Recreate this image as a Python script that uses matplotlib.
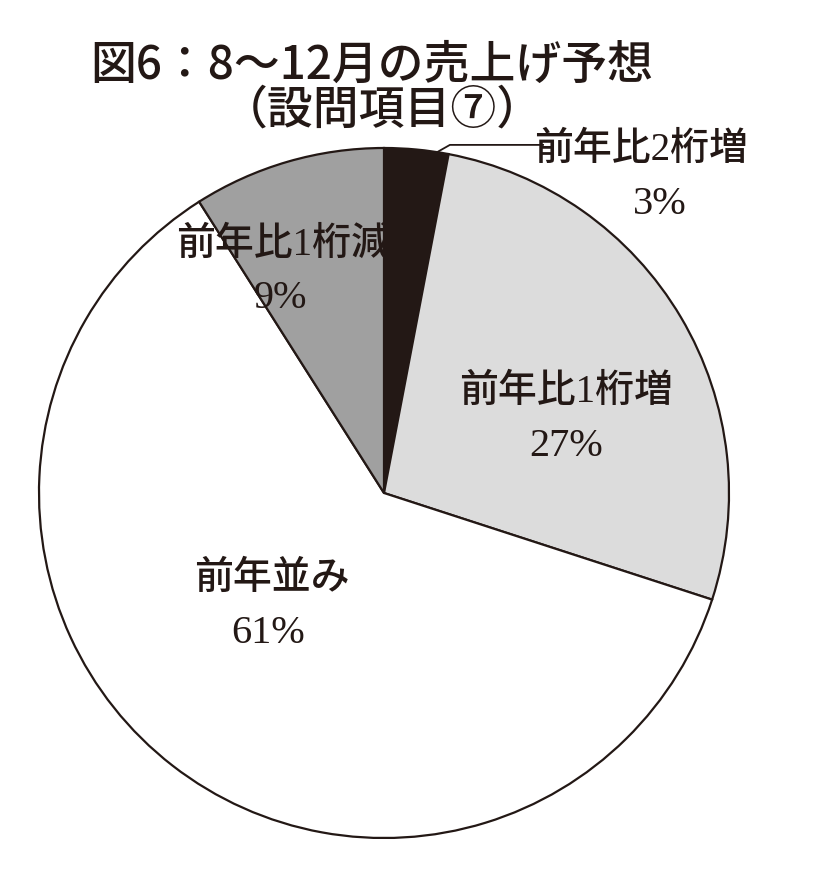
import matplotlib.pyplot as plt

plt.rcParams['font.family'] = ['Liberation Serif', 'Noto Sans CJK JP', 'DejaVu Sans']

# slices, clockwise from 12 o'clock
names = ["前年比2桁増", "前年比1桁増", "前年並み", "前年比1桁減"]
shares = [3, 27, 61, 9]
colors = ["#231815", "#dcdcdc", "#ffffff", "#a0a0a0"]

fig = plt.figure(figsize=(8.2, 8.83), dpi=100)
ax = fig.add_axes([39/820, 45/883, 690/820, 690/883])
ax.pie(shares, colors=colors, startangle=90, counterclock=False, radius=1,
       wedgeprops=dict(edgecolor="#231815", linewidth=1.6))
ax.set_xlim(-1, 1)
ax.set_ylim(-1, 1)
ax.set_aspect("equal")
ax.axis("off")

# label placement (name line, pct line) in pie coords
pos = [(0.745, 0.994, 0.80, 0.835),
       (0.528, 0.29, 0.528, 0.136),
       (-0.325, -0.252, -0.335, -0.406),
       (-0.293, 0.719, -0.30, 0.565)]
for name, v, (x1, y1, x2, y2) in zip(names, shares, pos):
    ax.text(x1, y1, name, ha="center", va="center", fontsize=28, weight="medium",
            color="#231815")
    ax.text(x2, y2, "%d%%" % v, ha="center", va="center", fontsize=29, color="#231815")

# leader line for the small slice
ax.plot([0.154, 0.191, 0.461], [0.988, 1.009, 1.009], color="#231815", lw=1.3,
        clip_on=False)

tfont = ['Noto Sans CJK JP', 'DejaVu Sans']
fig.text(372/820, 1 - 65/883, "図6：8～12月の売上げ予想", ha="center", va="center",
         fontsize=33, family=tfont, weight="medium", color="#231815")
fig.text(382/820, 1 - 110/883, "（設問項目⑦）", ha="center", va="center",
         fontsize=33, family=tfont, weight="medium", color="#231815")

fig.savefig("out.png", dpi=100)
